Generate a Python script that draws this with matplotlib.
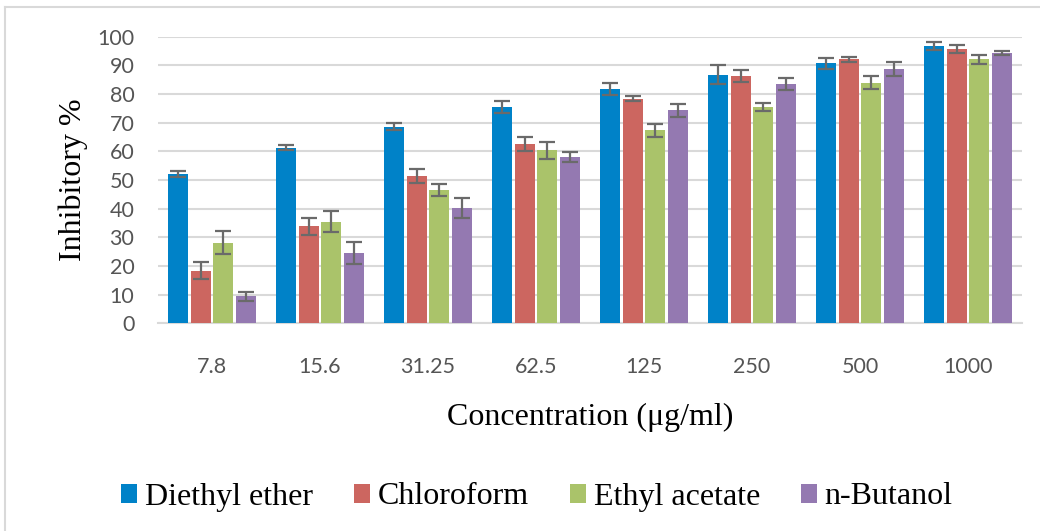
import numpy as np
import matplotlib
matplotlib.use("Agg")
from matplotlib import pyplot as plt
from matplotlib.lines import Line2D

# concentrations (ug/ml) shown as categories
concentrations = ["7.8", "15.6", "31.25", "62.5", "125", "250", "500", "1000"]
solvents = ["Diethyl ether", "Chloroform", "Ethyl acetate", "n-Butanol"]

diethyl_ether = [52.1, 61.3, 68.6, 75.5, 81.8, 86.8, 90.7, 96.8]
chloroform = [18.4, 33.8, 51.5, 62.6, 78.4, 86.3, 92.1, 95.6]
ethyl_acetate = [28.1, 35.5, 46.5, 60.4, 67.4, 75.4, 84.0, 92.1]
n_butanol = [9.5, 24.4, 40.3, 57.9, 74.3, 83.4, 88.7, 94.3]

diethyl_ether_err = [1.2, 0.8, 1.3, 2.1, 2.0, 3.4, 1.9, 1.5]
chloroform_err = [3.1, 3.1, 2.4, 2.4, 1.0, 2.1, 0.8, 1.4]
ethyl_acetate_err = [4.0, 3.6, 2.1, 3.0, 2.3, 1.3, 2.4, 1.5]
n_butanol_err = [1.6, 3.8, 3.4, 1.7, 2.2, 2.1, 2.4, 0.7]

colors = ["#0082c8", "#cc6660", "#aac36a", "#9479b1"]

values = [diethyl_ether, chloroform, ethyl_acetate, n_butanol]
errors = [diethyl_ether_err, chloroform_err, ethyl_acetate_err, n_butanol_err]

fig = plt.figure(figsize=(10.4, 5.31), dpi=100)
ax = fig.add_axes([0.1519, 0.3911, 0.8308, 0.5398])

x = np.arange(len(concentrations))
slot = 0.21
width = 0.186
for i, (vals, errs) in enumerate(zip(values, errors)):
    pos = x + (i - 1.5) * slot
    ax.bar(pos, vals, width=width, color=colors[i], label=solvents[i], zorder=3)
    ax.errorbar(pos, vals, yerr=errs, fmt="none", ecolor="#6a6a6a",
                elinewidth=1.6, capsize=5.5, capthick=1.6, zorder=4)

ax.set_xlim(-0.5, len(concentrations) - 0.5)
ax.set_ylim(0, 100)
ax.set_yticks(np.arange(0, 101, 10))
ax.set_xticks(x)
ax.set_xticklabels(concentrations)

ax.grid(axis="y", color="#d9d9d9", linewidth=1.5, zorder=0)
for side in ["top", "right", "left"]:
    ax.spines[side].set_visible(False)
ax.spines["bottom"].set_color("#d9d9d9")
ax.spines["bottom"].set_linewidth(1.5)
ax.tick_params(axis="both", length=0, labelsize=15.5, labelcolor="#555555")
ax.tick_params(axis="y", pad=17)
ax.tick_params(axis="x", pad=24)
for lab in ax.get_xticklabels() + ax.get_yticklabels():
    lab.set_fontfamily("Lato")

ax.set_xlabel("Concentration (\u03bcg/ml)", family="Liberation Serif", fontsize=23, labelpad=19)
ax.set_ylabel("Inhibitory %", family="Liberation Serif", fontsize=23, labelpad=7)

leg = fig.legend(loc="center", bbox_to_anchor=(537 / 1040, 1 - 497 / 531), ncol=4,
                 frameon=False, prop={"family": "Liberation Serif", "size": 23},
                 handlelength=0.5, handleheight=0.55, handletextpad=0.25,
                 columnspacing=1.27)

# chart border (only top and left edges are in view)
fig.add_artist(Line2D([5 / 1040, 5 / 1040], [0, 1 - 7 / 531], transform=fig.transFigure,
                      color="#d9d9d9", linewidth=1.5))
fig.add_artist(Line2D([5 / 1040, 1], [1 - 7 / 531, 1 - 7 / 531], transform=fig.transFigure,
                      color="#d9d9d9", linewidth=1.5))

fig.savefig("out.png", dpi=100)
